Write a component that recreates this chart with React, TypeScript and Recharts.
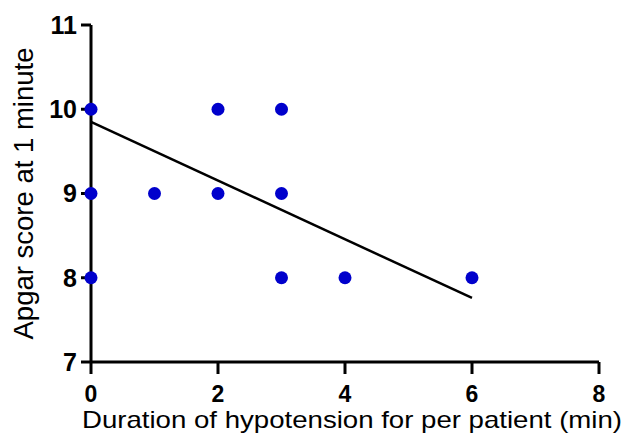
import React from "react";
import { ScatterChart, Scatter, XAxis, YAxis, Label } from "recharts";

const durationMin = [0, 0, 0, 1, 2, 2, 3, 3, 3, 4, 6];
const apgarScore = [10, 9, 8, 9, 10, 9, 10, 9, 8, 8, 8];
const fitX = [0, 6];
const fitY = [9.85, 7.76];
const xTicks = [0, 2, 4, 6, 8];
const yTicks = [7, 8, 9, 10, 11];

const points = durationMin.map((x, i) => ({ x, y: apgarScore[i] }));
const fitLine = fitX.map((x, i) => ({ x, y: fitY[i] }));

const font = "'Liberation Sans', Arial, sans-serif";

export default function App() {
  return (
    <div style={{ position: "absolute", left: 0, top: 0, background: "#fff" }}>
      <ScatterChart width={628} height={439} margin={{ top: 25, right: 29, bottom: 0, left: 0 }}>
        <XAxis
          type="number"
          dataKey="x"
          domain={[0, 8]}
          ticks={xTicks}
          height={77}
          axisLine={{ stroke: "#000", strokeWidth: 3 }}
          tickLine={{ stroke: "#000", strokeWidth: 3 }}
          tickSize={12}
          tickMargin={12}
          tick={{ fill: "#000", fontSize: 23, fontWeight: "bold", fontFamily: font }}
        >
          <Label
            value="Duration of hypotension for per patient (min)"
            position="insideBottom"
            offset={11}
            dx={7}
            textLength={540}
            lengthAdjust="spacingAndGlyphs"
            style={{ fill: "#000", fontSize: 24, fontFamily: font }}
          />
        </XAxis>
        <YAxis
          type="number"
          dataKey="y"
          domain={[7, 11]}
          ticks={yTicks}
          width={91}
          axisLine={{ stroke: "#000", strokeWidth: 3 }}
          tickLine={{ stroke: "#000", strokeWidth: 3 }}
          tickSize={10}
          tickMargin={4}
          tick={{ fill: "#000", fontSize: 25, fontWeight: "bold", fontFamily: font }}
        >
          <Label
            value="Apgar score at 1 minute"
            angle={-90}
            position="insideLeft"
            offset={23}
            style={{ fill: "#000", fontSize: 27.5, fontFamily: font, textAnchor: "middle" }}
          />
        </YAxis>
        <Scatter
          data={fitLine}
          line={{ stroke: "#000", strokeWidth: 2.5 }}
          lineType="joint"
          shape={() => null}
          isAnimationActive={false}
        />
        <Scatter
          data={points}
          fill="#0000CC"
          shape={(p: any) => <circle cx={p.cx} cy={p.cy} r={6.5} fill="#0000CC" />}
          isAnimationActive={false}
        />
      </ScatterChart>
    </div>
  );
}
